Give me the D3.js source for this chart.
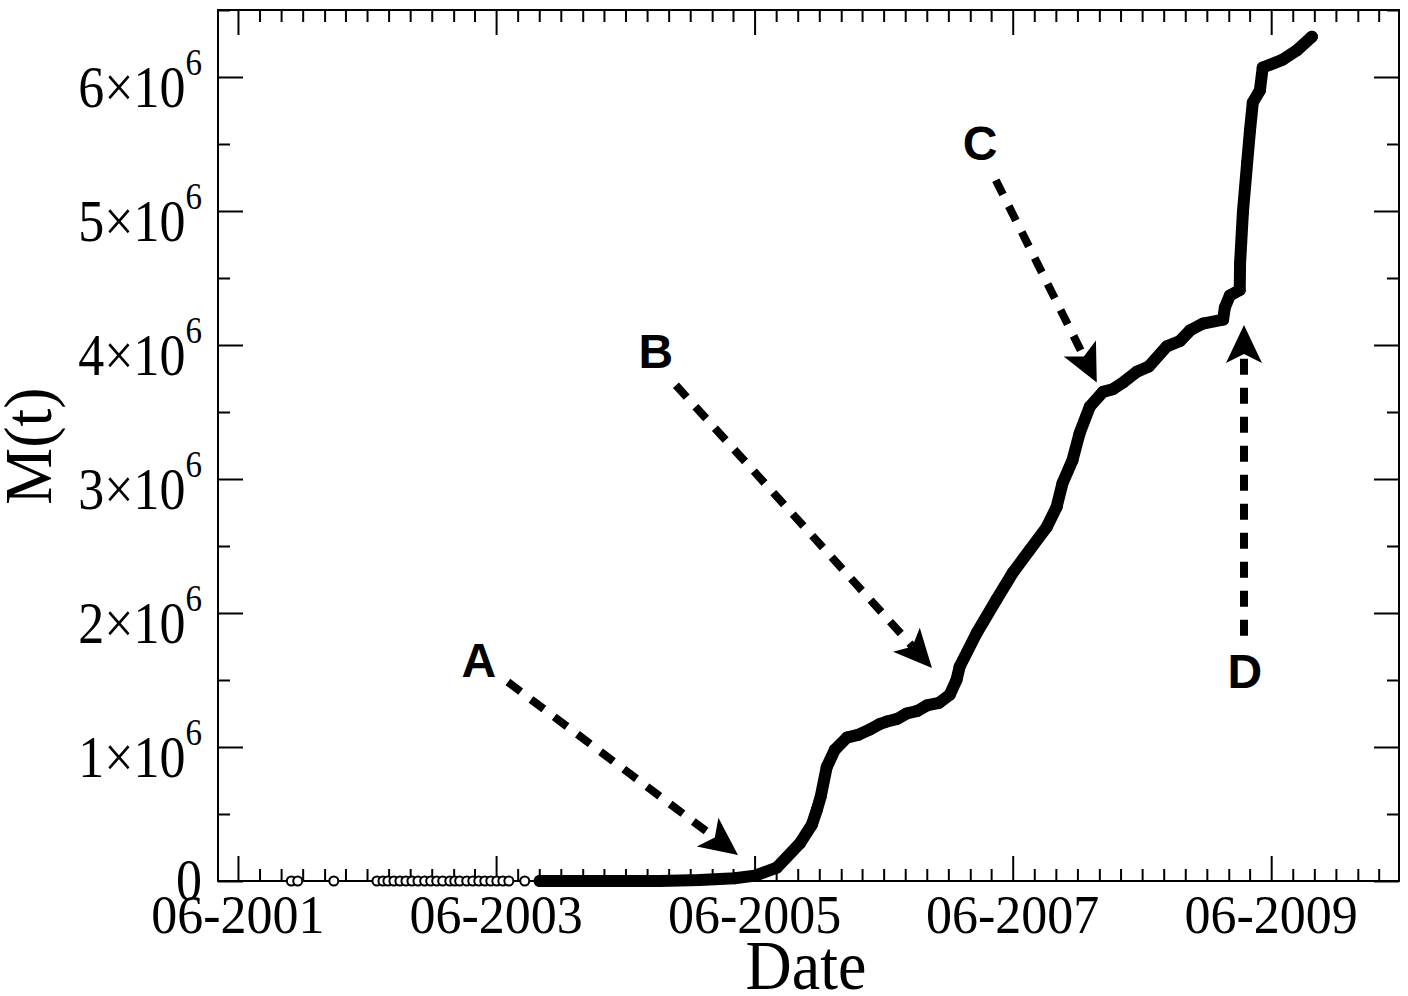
<!DOCTYPE html>
<html>
<head>
<meta charset="utf-8">
<script src="https://cdn.jsdelivr.net/npm/d3@7"></script>
<style>
  body { margin: 0; background: #fff; }
  svg { display: block; }
</style>
</head>
<body>
<div id="chart"></div>
<script>
/****** DATA ******/
// isolated early observations, all at M(t) = 0
var sparseDates = ["2001-10-30", "2001-11-17", "2002-02-27", "2002-06-29", "2002-07-16",
  "2002-07-30", "2002-08-16", "2002-09-02", "2002-09-19", "2002-10-06", "2002-10-23",
  "2002-11-11", "2002-11-28", "2002-12-15", "2003-01-01", "2003-01-21", "2003-02-04",
  "2003-02-18", "2003-03-10", "2003-03-27", "2003-04-13", "2003-04-30", "2003-05-17",
  "2003-06-03", "2003-06-20", "2003-07-07", "2003-08-21"];

// dense part of the series
var curveDates = ["2003-10-02", "2004-01-23", "2004-05-16", "2004-09-06", "2004-12-28",
  "2005-04-06", "2005-06-02", "2005-08-03", "2005-10-07", "2005-11-10", "2005-11-24",
  "2005-12-05", "2005-12-22", "2006-01-14", "2006-02-17", "2006-03-20", "2006-04-23",
  "2006-05-20", "2006-06-10", "2006-07-10", "2006-08-05", "2006-09-05", "2006-10-01",
  "2006-11-05", "2006-12-05", "2006-12-24", "2007-01-02", "2007-02-19",
  "2007-04-16", "2007-06-01", "2007-07-19", "2007-09-05", "2007-10-03", "2007-10-20",
  "2007-11-17", "2007-12-07", "2008-01-05", "2008-02-11", "2008-03-10", "2008-04-08",
  "2008-05-17", "2008-06-20", "2008-08-10", "2008-09-16", "2008-10-15", "2008-11-20",
  "2009-01-16", "2009-01-21", "2009-02-04",
  "2009-03-04", "2009-03-05", "2009-03-13", "2009-03-25", "2009-04-02", "2009-04-10",
  "2009-04-30", "2009-05-08", "2009-07-04", "2009-08-13", "2009-09-24"];
var curveValues = [0, 0, 0, 0, 0.007e6,
  0.02e6, 0.04e6, 0.10e6, 0.28e6, 0.42e6, 0.53e6,
  0.63e6, 0.85e6, 0.98e6, 1.07e6, 1.09e6, 1.13e6,
  1.17e6, 1.19e6, 1.21e6, 1.25e6, 1.27e6, 1.31e6,
  1.33e6, 1.39e6, 1.50e6, 1.60e6, 1.85e6,
  2.10e6, 2.30e6, 2.47e6, 2.64e6, 2.79e6, 2.97e6,
  3.14e6, 3.34e6, 3.54e6, 3.65e6, 3.67e6, 3.72e6,
  3.80e6, 3.84e6, 3.99e6, 4.03e6, 4.11e6, 4.16e6,
  4.19e6, 4.28e6, 4.37e6,
  4.41e6, 4.61e6, 4.99e6, 5.36e6, 5.60e6, 5.81e6,
  5.90e6, 6.07e6, 6.13e6, 6.20e6, 6.30e6];

// axis ticks
var xTickYears = [2001, 2003, 2005, 2007, 2009];
var yTicks = [0, 1e6, 2e6, 3e6, 4e6, 5e6, 6e6];
var yMinorTicks = [0.5e6, 1.5e6, 2.5e6, 3.5e6, 4.5e6, 5.5e6, 6.5e6];

// annotations (decimal years, M(t))
var notes = [
  {label: "A", lx: 2003.28, ly: 1.52e6, x0: 2003.505, y0: 1.485e6, x1: 2005.285, y1: 0.194e6},
  {label: "B", lx: 2004.65, ly: 3.83e6, x0: 2004.805, y0: 3.70e6, x1: 2006.788, y1: 1.59e6},
  {label: "C", lx: 2007.16, ly: 5.38e6, x0: 2007.283, y0: 5.23e6, x1: 2008.065, y1: 3.72e6},
  {label: "D", lx: 2009.21, ly: 1.44e6, x0: 2009.203, y0: 1.83e6, x1: 2009.203, y1: 4.15e6}
];

/****** SET UP ******/
var W = 1408, H = 996;
var margin = {top: 10, right: 9, bottom: 115, left: 218};
var width = W - margin.left - margin.right,
    height = H - margin.top - margin.bottom;

var parseDate = d3.timeParse("%Y-%m-%d");
function yr(d) {
  var y = Math.floor(d);
  var start = new Date(y, 0, 1), end = new Date(y + 1, 0, 1);
  return new Date(+start + (d - y) * (end - start));
}

var svg = d3.select("#chart").append("svg")
  .attr("width", W)
  .attr("height", H);

var g = svg.append("g")
  .attr("transform", "translate(" + margin.left + "," + margin.top + ")");

var x = d3.scaleTime()
  .domain([yr(2001.259), yr(2010.404)])
  .range([0, width]);

var y = d3.scaleLinear()
  .domain([0, 6.5e6])
  .range([height, 0]);

/****** TICKS (inward, all four sides) ******/
var xMajor = xTickYears.map(function(v) { return new Date(v, 5, 1); });
var xMinor = d3.timeMonth.filter(function(d) { return d.getMonth() % 2 === 1; })
  .range(x.domain()[0], x.domain()[1])
  .filter(function(d) { return d.getMonth() !== 5 || d.getFullYear() % 2 === 0; });

function tickGroup(axis, t) {
  var a = g.append("g").attr("transform", t).call(axis);
  a.select(".domain").remove();
  a.selectAll("line").attr("stroke", "#000").attr("stroke-width", 2);
  a.selectAll("text").remove();
  return a;
}
tickGroup(d3.axisBottom(x).tickValues(xMajor).tickSizeInner(-25).tickSizeOuter(0), "translate(0," + height + ")");
tickGroup(d3.axisBottom(x).tickValues(xMinor).tickSizeInner(-12).tickSizeOuter(0), "translate(0," + height + ")");
tickGroup(d3.axisTop(x).tickValues(xMajor).tickSizeInner(-25).tickSizeOuter(0), "translate(0,0)");
tickGroup(d3.axisTop(x).tickValues(xMinor).tickSizeInner(-12).tickSizeOuter(0), "translate(0,0)");
tickGroup(d3.axisLeft(y).tickValues(yTicks).tickSizeInner(-25).tickSizeOuter(0), "translate(0,0)");
tickGroup(d3.axisLeft(y).tickValues(yMinorTicks).tickSizeInner(-12).tickSizeOuter(0), "translate(0,0)");
tickGroup(d3.axisRight(y).tickValues(yTicks).tickSizeInner(-25).tickSizeOuter(0), "translate(" + width + ",0)");
tickGroup(d3.axisRight(y).tickValues(yMinorTicks).tickSizeInner(-12).tickSizeOuter(0), "translate(" + width + ",0)");

// frame
g.append("rect")
  .attr("width", width)
  .attr("height", height)
  .attr("fill", "none")
  .attr("stroke", "#000")
  .attr("stroke-width", 2);

/****** TICK LABELS ******/
// the original glyphs are a little taller than wide, hence the scale(1, s)
var serif = "'Liberation Serif', 'Times New Roman', serif";

g.selectAll(".xlab")
  .data(xMajor)
  .enter().append("text")
    .attr("class", "xlab")
    .attr("transform", function(d) { return "translate(" + x(d) + "," + (height + 52) + ") scale(1,1.07)"; })
    .attr("text-anchor", "middle")
    .style("font-family", serif)
    .style("font-size", "52px")
    .text(d3.timeFormat("%m-%Y"));

var ylab = g.selectAll(".ylab")
  .data(yTicks)
  .enter().append("text")
    .attr("class", "ylab")
    .attr("transform", function(d) {
      return "translate(-16," + (y(d) + (d === 0 ? 19 : 30)) + ") scale(1,1.15)";
    })
    .attr("text-anchor", "end")
    .style("font-family", serif)
    .style("font-size", "52px");

ylab.append("tspan")
  .text(function(d) { return d === 0 ? "0" : (d / 1e6) + "\u00d710"; });
ylab.filter(function(d) { return d !== 0; })
  .append("tspan")
    .attr("dy", -28)
    .style("font-size", "33px")
    .text("6");

/****** AXIS TITLES ******/
svg.append("text")
  .attr("transform", "translate(806,989) scale(1,1.1)")
  .attr("text-anchor", "middle")
  .style("font-family", serif)
  .style("font-size", "64px")
  .text("Date");

svg.append("text")
  .attr("transform", "translate(51,446) rotate(-90) scale(1,1.05)")
  .attr("text-anchor", "middle")
  .style("font-family", serif)
  .style("font-size", "64px")
  .text("M(t)");

/****** SERIES ******/
var curve = curveDates.map(function(d, i) { return {date: parseDate(d), value: curveValues[i]}; });

var line = d3.line()
  .x(function(d) { return x(d.date); })
  .y(function(d) { return y(d.value); });

g.append("path")
  .datum(curve)
  .attr("d", line)
  .attr("fill", "none")
  .attr("stroke", "#000")
  .attr("stroke-width", 12)
  .attr("stroke-linejoin", "round")
  .attr("stroke-linecap", "round");

g.selectAll(".pt")
  .data(curve)
  .enter().append("circle")
    .attr("class", "pt")
    .attr("cx", function(d) { return x(d.date); })
    .attr("cy", function(d) { return y(d.value); })
    .attr("r", 5)
    .attr("fill", "#000")
    .attr("stroke", "#000")
    .attr("stroke-width", 2);

g.selectAll(".sp")
  .data(sparseDates)
  .enter().append("circle")
    .attr("class", "sp")
    .attr("cx", function(d) { return x(parseDate(d)); })
    .attr("cy", y(0))
    .attr("r", 4.5)
    .attr("fill", "#fff")
    .attr("stroke", "#000")
    .attr("stroke-width", 2);

/****** ANNOTATIONS ******/
var headL = 38, headW = 18, notch = 9;

notes.forEach(function(n) {
  var p0 = [x(yr(n.x0)), y(n.y0)], p1 = [x(yr(n.x1)), y(n.y1)];
  var dx = p1[0] - p0[0], dy = p1[1] - p0[1], len = Math.sqrt(dx * dx + dy * dy);
  var ux = dx / len, uy = dy / len, nx = -uy, ny = ux;
  var back = [p1[0] - (headL - notch) * ux, p1[1] - (headL - notch) * uy];

  g.append("line")
    .attr("x1", p0[0]).attr("y1", p0[1])
    .attr("x2", back[0]).attr("y2", back[1])
    .attr("stroke", "#000")
    .attr("stroke-width", 8)
    .attr("stroke-dasharray", "16,13");

  var pts = [
    p1,
    [p1[0] - headL * ux + headW * nx, p1[1] - headL * uy + headW * ny],
    back,
    [p1[0] - headL * ux - headW * nx, p1[1] - headL * uy - headW * ny]
  ];
  g.append("polygon")
    .attr("points", pts.map(function(p) { return p.join(","); }).join(" "))
    .attr("fill", "#000");

  g.append("text")
    .attr("x", x(yr(n.lx)))
    .attr("y", y(n.ly))
    .attr("text-anchor", "middle")
    .style("font-family", "'Liberation Sans', Arial, sans-serif")
    .style("font-weight", "bold")
    .style("font-size", "48px")
    .text(n.label);
});
</script>
</body>
</html>
